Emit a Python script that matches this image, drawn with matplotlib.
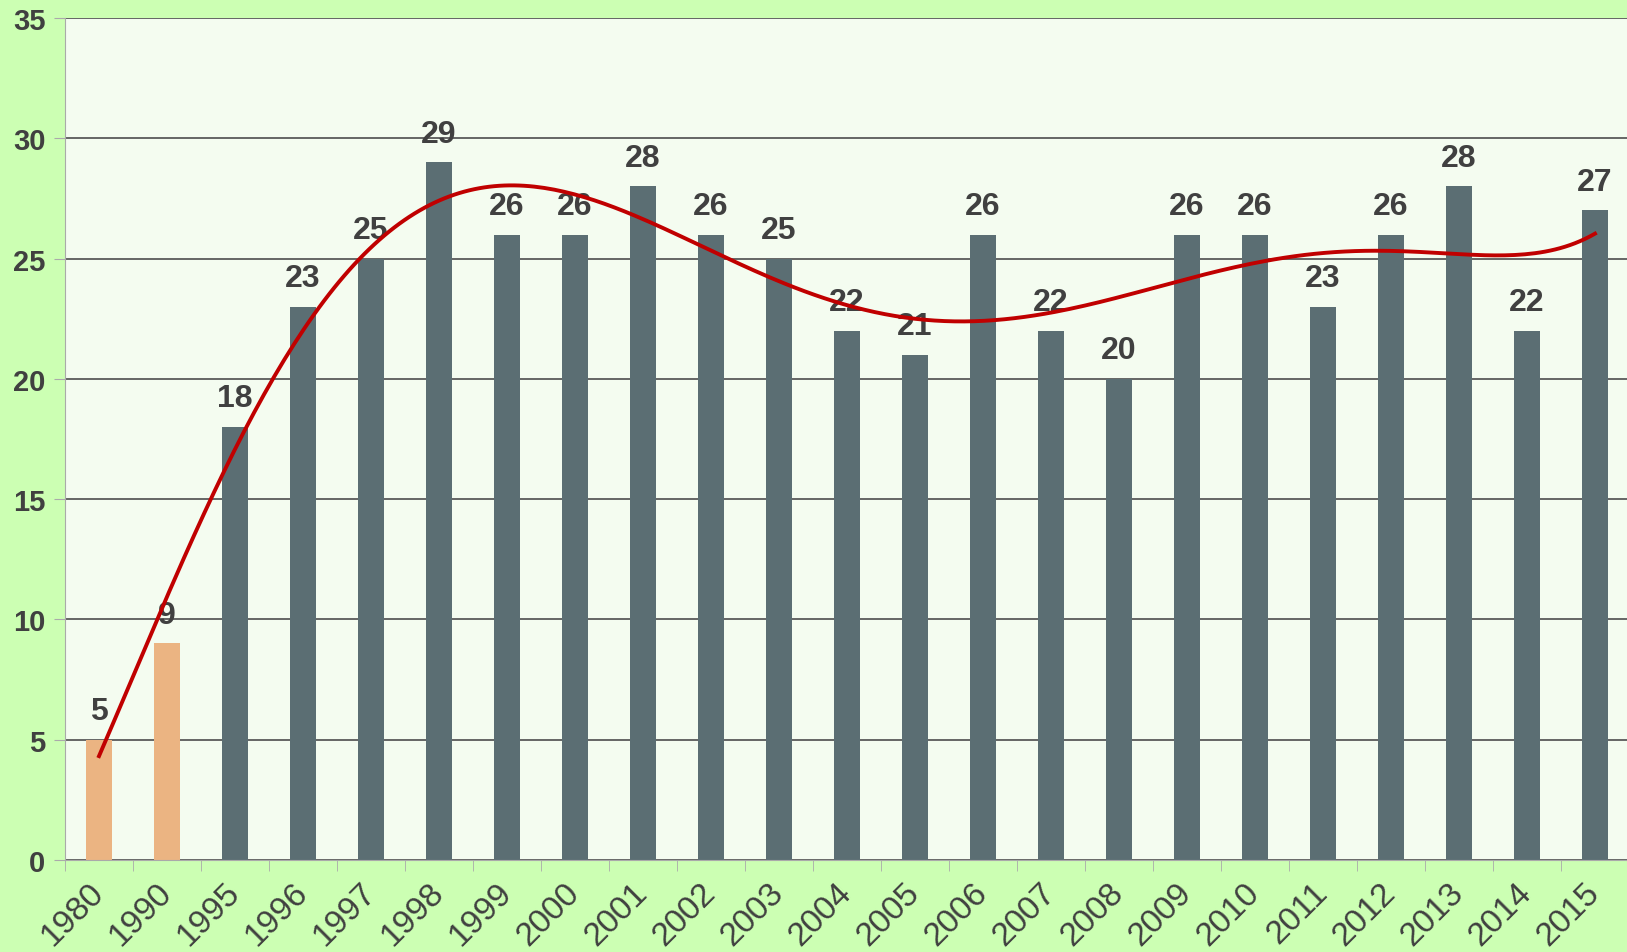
import matplotlib.pyplot as plt
import numpy as np

years = ['1980', '1990', '1995', '1996', '1997', '1998', '1999', '2000', '2001', '2002',
         '2003', '2004', '2005', '2006', '2007', '2008', '2009', '2010', '2011', '2012',
         '2013', '2014', '2015']
values = [5, 9, 18, 23, 25, 29, 26, 26, 28, 26, 25, 22, 21, 26, 22, 20, 26, 26, 23, 26, 28, 22, 27]
bar_colors = ['#EBB482', '#EBB482'] + ['#5B6E73'] * 21

plt.rcParams['font.family'] = ['Liberation Sans', 'DejaVu Sans']

fig = plt.figure(figsize=(16.27, 9.53), dpi=100, facecolor='#CCFFB3')
ax = fig.add_axes([65 / 1627, 1 - 861 / 953, 1564 / 1627, 842 / 953])
ax.set_facecolor('#F4FCF0')

x = np.arange(len(years))
ax.bar(x, values, width=0.39, color=bar_colors, zorder=2)

# polynomial trend line (order 6) over the bar values
t = x + 1
coef = np.polyfit(t, values, 6)
ts = np.linspace(t[0], t[-1], 300)
ax.plot(ts - 1, np.polyval(coef, ts), color='#C00000', lw=2.8, zorder=4)

for xi, v in zip(x, values):
    ax.annotate(str(v), (xi, v), xytext=(0, 15), textcoords='offset points',
                ha='center', va='baseline', fontsize=23, fontweight='bold',
                color='#404040', zorder=3)

ax.set_xlim(-0.5, len(years) - 0.5)
ax.set_ylim(0, 35)
ax.set_yticks(range(0, 36, 5))
ax.set_yticklabels([str(v) for v in range(0, 36, 5)], fontsize=21, fontweight='bold', color='#404040')
ax.yaxis.grid(True, color='#5A5A5A', lw=1.3, zorder=1)
ax.set_axisbelow(True)

ax.set_xticks(x)
ax.set_xticklabels(years, rotation=45, ha='right', va='center', rotation_mode='anchor',
                   fontsize=24, color='#404040')
ax.set_xticks(np.arange(len(years) + 1) - 0.5, minor=True)
ax.tick_params(axis='x', which='major', length=0, pad=20)
ax.tick_params(axis='x', which='minor', length=8, color='#AAAAAA')
ax.tick_params(axis='y', length=8, color='#AAAAAA', pad=6)

for s in ['top', 'right']:
    ax.spines[s].set_visible(False)
ax.spines['left'].set_color('#AAAAAA')
ax.spines['bottom'].set_color('#AAAAAA')

fig.savefig('out.png', dpi=100, facecolor=fig.get_facecolor())
